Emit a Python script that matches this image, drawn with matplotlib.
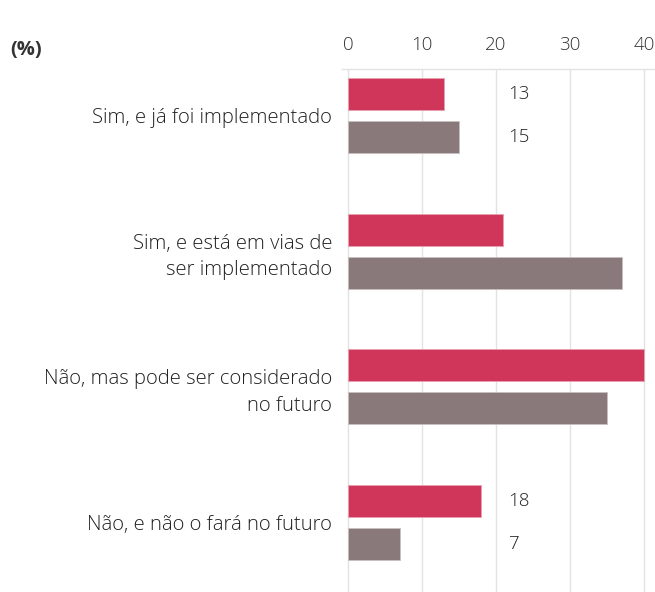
import numpy as np
import matplotlib.pyplot as plt

# Data
categories = ['Sim, e já foi implementado',
              'Sim, e está em vias de\nser implementado',
              'Não, mas pode ser considerado\nno futuro',
              'Não, e não o fará no futuro']
series_a = [13, 21, 40, 18]
series_b = [15, 37, 35, 7]
xticks = [0, 10, 20, 30, 40]

red = '#D0365A'
grey = '#8A797B'

plt.rcParams['font.family'] = ['Open Sans', 'DejaVu Sans']
plt.rcParams['font.weight'] = 'light'

fig = plt.figure(figsize=(6.55, 5.92), dpi=100)
ax = fig.add_axes([342/655, 0, 313/655, 1 - 69/592])

y = np.arange(len(categories))
off = 0.158
h = 0.236
ax.barh(y - off, series_a, height=h, color=red, edgecolor='#e8a0b0', linewidth=0.6, zorder=3)
ax.barh(y + off, series_b, height=h, color=grey, edgecolor='#c8c0c0', linewidth=0.6, zorder=3)

# value labels in a fixed column, only where the bar does not reach it
lab_x = 21.7
for i in range(len(categories)):
    if series_a[i] < lab_x - 1:
        ax.text(lab_x, y[i] - off, str(series_a[i]), va='center', ha='left',
                fontsize=13.5, color='#222222')
    if series_b[i] < lab_x - 1:
        ax.text(lab_x, y[i] + off, str(series_b[i]), va='center', ha='left',
                fontsize=13.5, color='#222222')

ax.set_xlim(-0.8, 41.5)
ax.set_ylim(3.512, -0.343)
ax.set_xticks(xticks)
ax.xaxis.tick_top()
ax.tick_params(axis='x', length=0, pad=11, labelsize=13.5, labelcolor='#333333')
ax.set_yticks(y)
ax.set_yticklabels(categories, linespacing=1.45)
ax.tick_params(axis='y', length=0, pad=7, labelsize=14.6, labelcolor='#222222')

ax.grid(axis='x', color='#e2e2e2', linewidth=1, zorder=0)
for s in ['left', 'right', 'bottom']:
    ax.spines[s].set_visible(False)
ax.spines['top'].set_color('#e2e2e2')
ax.spines['top'].set_linewidth(1)

fig.text(10/655, 1 - 50/592, '(%)', fontsize=14.5, fontweight='bold',
         color='#333333', va='center', ha='left')

fig.savefig('out.png', dpi=100, facecolor='white')
